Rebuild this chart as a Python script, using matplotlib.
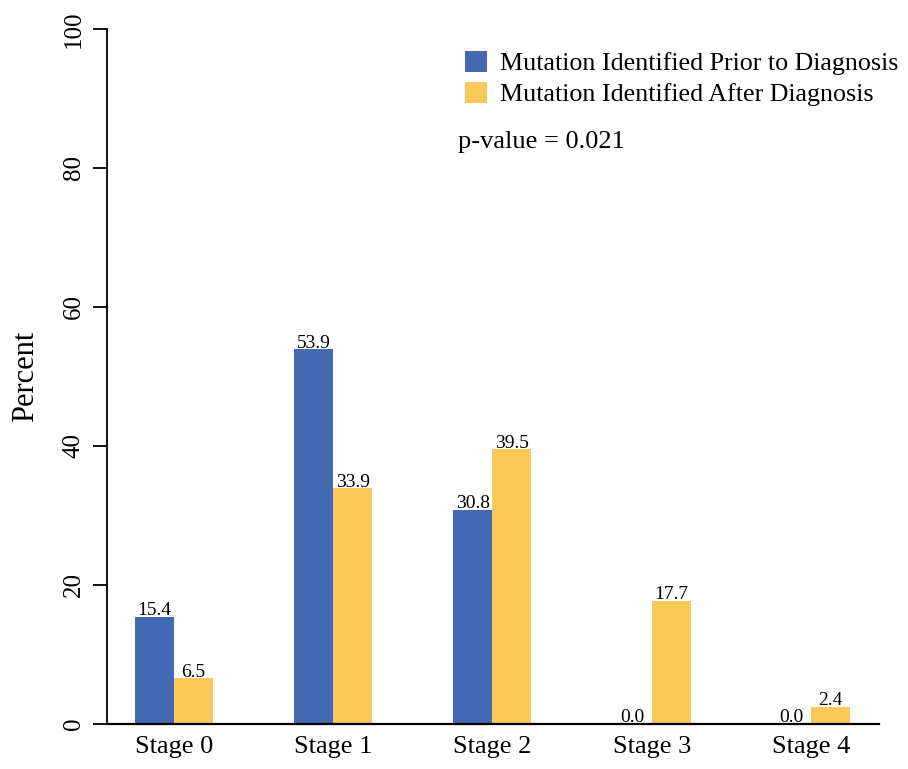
import matplotlib
matplotlib.use("Agg")
import matplotlib.pyplot as plt
import numpy as np

categories = ["Stage 0", "Stage 1", "Stage 2", "Stage 3", "Stage 4"]
prior = [15.4, 53.9, 30.8, 0.0, 0.0]
after = [6.5, 33.9, 39.5, 17.7, 2.4]
series_names = ["Mutation Identified Prior to Diagnosis", "Mutation Identified After Diagnosis"]
yticks = [0, 20, 40, 60, 80, 100]
pvalue_text = "p-value = 0.021"

plt.rcParams['font.family'] = ['Liberation Serif', 'DejaVu Serif']

W, H = 908, 769
fig = plt.figure(figsize=(W / 100, H / 100), dpi=100)
ax = fig.add_axes([107 / W, 1 - 723.5 / H, (879 - 107) / W, (723.5 - 29) / H])

blue = "#4269B1"
yellow = "#F9C95B"
x = np.arange(len(categories))
w = 0.245
b1 = ax.bar(x - w / 2, prior, w, color=blue, label=series_names[0])
b2 = ax.bar(x + w / 2, after, w, color=yellow, label=series_names[1])

for bars, vals in ((b1, prior), (b2, after)):
    for r, v in zip(bars, vals):
        ax.annotate(f"{v:.1f}", (r.get_x() + r.get_width() / 2, v),
                    xytext=(0, 1), textcoords="offset points",
                    ha="center", va="baseline", fontsize=14)

ax.set_xlim(-0.4208, 4.428)
ax.set_ylim(0, 100)
ax.set_yticks(yticks)
ax.set_yticklabels([str(t) for t in yticks], rotation=90, va="center", fontsize=18)
ax.set_xticks(x)
ax.set_xticklabels(categories, fontsize=19)
ax.tick_params(axis="x", length=0, pad=9)
ax.tick_params(axis="y", length=10, width=1.3, pad=6)
for s in ("top", "right"):
    ax.spines[s].set_visible(False)
ax.spines["left"].set_linewidth(1.3)
ax.spines["bottom"].set_linewidth(1.6)
ax.set_ylabel("Percent", fontsize=22, labelpad=16)

leg = fig.legend(handles=[b1, b2], loc="upper left",
                 bbox_to_anchor=(465 / W, 1 - 51 / H), frameon=False,
                 fontsize=18.7, handlelength=0.85, handleheight=0.85,
                 handletextpad=0.5, borderpad=0, borderaxespad=0,
                 labelspacing=0.25)
fig.text(458 / W, 1 - 142 / H, pvalue_text, fontsize=19, ha="left", va="center")

fig.savefig("out.png", dpi=100)
